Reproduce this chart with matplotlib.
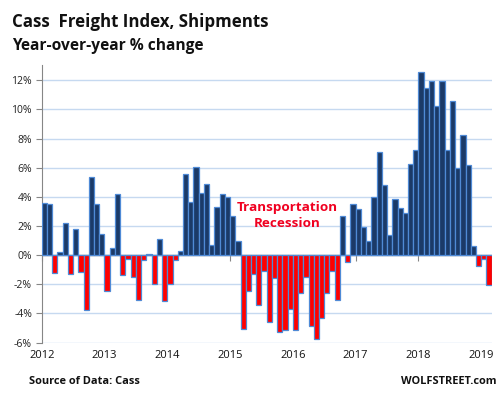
import numpy as np
import matplotlib.pyplot as plt
import matplotlib.ticker as mticker

# Cass Freight Index, Shipments, y/y % change, Jan 2012 .. Feb 2019
yoy_2012 = [3.57, 3.50, -1.24, 0.20, 2.20, -1.30, 1.80, -1.17, -3.76, 5.36, 3.50, 1.47]
yoy_2013 = [-2.45, 0.48, 4.19, -1.37, -0.27, -1.51, -3.07, -0.34, 0.09, -1.97, 1.10, -3.14]
yoy_2014 = [-1.97, -0.32, 0.32, 5.57, 3.62, 6.05, 4.26, 4.88, 0.69, 3.30, 4.19, 3.99]
yoy_2015 = [2.70, 0.96, -5.09, -2.45, -1.30, -3.44, -1.08, -4.60, -1.58, -5.29, -5.13, -3.67]
yoy_2016 = [-5.13, -2.61, -1.51, -4.86, -5.77, -4.33, -2.61, -1.08, -3.07, 2.70, -0.46, 3.50]
yoy_2017 = [3.16, 1.92, 0.96, 3.99, 7.08, 4.79, 1.37, 3.85, 3.23, 2.89, 6.25, 7.22]
yoy_2018 = [12.58, 11.48, 11.94, 10.22, 11.94, 7.22, 10.56, 5.98, 8.22, 6.16, 0.60, -0.73]
yoy_2019 = [-0.27, -2.06]

years = [2012, 2013, 2014, 2015, 2016, 2017, 2018, 2019]
yticks = [-6, -4, -2, 0, 2, 4, 6, 8, 10, 12]

values = np.array(yoy_2012 + yoy_2013 + yoy_2014 + yoy_2015 + yoy_2016
                  + yoy_2017 + yoy_2018 + yoy_2019)
months = np.arange(len(values))

navy = "#1b3a68"
edge = "#4f8ad6"
red = "#ff0000"
grid_c = "#c6d9f0"
axis_c = "#868686"

plt.rcParams["font.family"] = ["Open Sans", "DejaVu Sans"]

fig = plt.figure(figsize=(5.02, 3.98), dpi=100)
ax = fig.add_axes([41.7 / 502, 1 - 342.6 / 398, 450 / 502, (342.6 - 65) / 398])

colors = [navy if v >= 0 else red for v in values]
ax.bar(months, values, width=1.0, color=colors, edgecolor=edge, linewidth=0.9, zorder=3)

ymin, ymax = -6, 13.05
ax.set_ylim(ymin, ymax)
ax.set_xlim(-0.5, len(values) - 0.5)

ax.set_yticks(yticks)
ax.yaxis.set_major_formatter(mticker.FuncFormatter(lambda v, p: f"{v:.0f}%"))
ax.yaxis.grid(True, color=grid_c, linewidth=1.0, zorder=0)
ax.tick_params(axis="y", length=4, color=axis_c, labelsize=7.5, pad=3, labelcolor="#222222")

year_pos = [12 * (y - 2012) - 0.5 for y in years]
ax.set_xticks(year_pos)
ax.set_xticklabels([str(y) for y in years])
ax.tick_params(axis="x", length=0, labelsize=8, pad=5, labelcolor="#111111")

for s in ["top", "right", "bottom"]:
    ax.spines[s].set_visible(False)
ax.spines["left"].set_color(axis_c)

# zero line with small year ticks
ax.axhline(0, color=axis_c, linewidth=1.0, zorder=2)
zero_frac = (0 - ymin) / (ymax - ymin)
sec = ax.secondary_xaxis(zero_frac)
sec.set_xticks(year_pos)
sec.set_xticklabels([])
sec.tick_params(axis="x", length=4, color=axis_c, direction="out")
sec.spines["bottom"].set_visible(False)

ax.text(46.4, 2.75, "Transportation\nRecession", color="#f00020", fontsize=9.7,
        fontweight="bold", ha="center", va="center", linespacing=1.3, zorder=5)

fig.text(12 / 502, 1 - 22 / 398, "Cass  Freight Index, Shipments", fontsize=12.2,
         fontweight="bold", ha="left", va="center", color="#111111")
fig.text(12 / 502, 1 - 46 / 398, "Year-over-year % change", fontsize=11.2,
         fontweight="bold", ha="left", va="center", color="#111111")
fig.text(29 / 502, 1 - 382 / 398, "Source of Data: Cass", fontsize=7.9,
         fontweight="bold", ha="left", va="center", color="#111111")
fig.text(497 / 502, 1 - 382 / 398, "WOLFSTREET.com", fontsize=7.9,
         fontweight="bold", ha="right", va="center", color="#111111")

fig.savefig("out.png", dpi=100)
